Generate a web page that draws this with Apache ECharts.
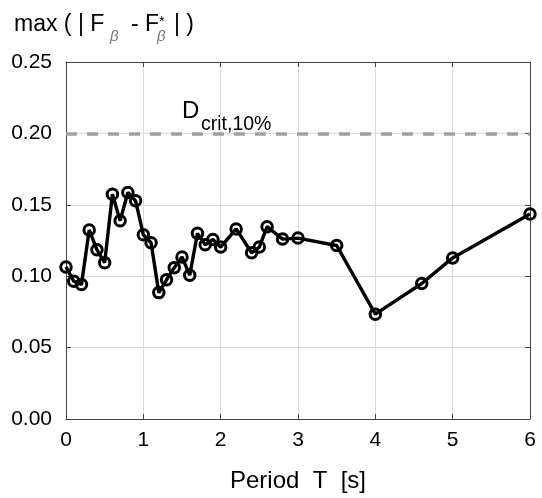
<!DOCTYPE html>
<html>
<head>
<meta charset="utf-8">
<script src="https://cdn.jsdelivr.net/npm/echarts@6/dist/echarts.min.js"></script>
<style>
  html, body { margin: 0; padding: 0; background: #fff; }
  #chart { width: 542px; height: 498px; }
</style>
</head>
<body>
<div id="chart"></div>
<script>
// data
var periods = [0, 0.1, 0.2, 0.3, 0.4, 0.5, 0.6, 0.7, 0.8, 0.9, 1.0, 1.1, 1.2, 1.3, 1.4, 1.5, 1.6, 1.7, 1.8, 1.9, 2.0,
               2.2, 2.4, 2.5, 2.6, 2.8, 3.0, 3.5, 4.0, 4.6, 5.0, 6.0]
var maxDiff = [0.1065, 0.0965, 0.0942, 0.1324, 0.1185, 0.1095, 0.1574, 0.1389, 0.1586, 0.1528, 0.1290, 0.1234, 0.0885,
               0.0975, 0.1060, 0.1135, 0.1007, 0.1300, 0.1220, 0.1257, 0.1204,
               0.1331, 0.1164, 0.1204, 0.1347, 0.1260, 0.1267, 0.1215, 0.0734, 0.0949, 0.1128, 0.1435]
var dCrit = 0.1958
var xTicks = [0, 1, 2, 3, 4, 5, 6]
var yTicks = [0, 0.05, 0.10, 0.15, 0.20, 0.25]

var font = "'Liberation Sans', Arial, sans-serif"
var chart = echarts.init(document.getElementById('chart'))

var points = periods.map(function (t, i) { return [t, maxDiff[i]] })

chart.setOption({
    animation: false,
    grid: { left: 66, right: 12, top: 62, bottom: 76 },
    xAxis: [
        {
            type: 'value',
            min: xTicks[0],
            max: xTicks[xTicks.length - 1],
            interval: 1,
            name: 'Period  T  [s]',
            nameLocation: 'middle',
            nameGap: 50,
            nameTextStyle: { fontFamily: font, fontSize: 24, color: '#000' },
            axisLine: { show: true, onZero: false, lineStyle: { color: '#444', width: 1 } },
            axisTick: { show: true, inside: true, length: 5, lineStyle: { color: '#444' } },
            axisLabel: { fontFamily: font, fontSize: 21, color: '#000', margin: 11 },
            splitLine: { show: true, lineStyle: { color: '#dcdcdc', width: 1 } }
        },
        {
            // top frame
            type: 'value',
            position: 'top',
            min: xTicks[0],
            max: xTicks[xTicks.length - 1],
            interval: 1,
            axisLine: { show: true, onZero: false, lineStyle: { color: '#444', width: 1 } },
            axisTick: { show: true, inside: true, length: 5, lineStyle: { color: '#444' } },
            axisLabel: { show: false },
            splitLine: { show: false }
        }
    ],
    yAxis: [
        {
            type: 'value',
            min: yTicks[0],
            max: yTicks[yTicks.length - 1],
            interval: 0.05,
            axisLine: { show: true, onZero: false, lineStyle: { color: '#444', width: 1 } },
            axisTick: { show: true, inside: true, length: 5, lineStyle: { color: '#444' } },
            axisLabel: {
                fontFamily: font, fontSize: 21, color: '#000', margin: 14,
                formatter: function (v) { return v.toFixed(2) }
            },
            splitLine: { show: true, lineStyle: { color: '#dcdcdc', width: 1 } }
        },
        {
            // right frame
            type: 'value',
            position: 'right',
            min: yTicks[0],
            max: yTicks[yTicks.length - 1],
            interval: 0.05,
            axisLine: { show: true, onZero: false, lineStyle: { color: '#444', width: 1 } },
            axisTick: { show: true, inside: true, length: 5, lineStyle: { color: '#444' } },
            axisLabel: { show: false },
            splitLine: { show: false }
        }
    ],
    graphic: [
        // y axis title: max ( | F_beta - F*_beta | )
        { type: 'text', left: 14, top: 13, style: { text: 'max ( | F', font: '23px ' + font, fill: '#000' } },
        { type: 'text', left: 110, top: 29, style: { text: 'β', font: 'italic 15px ' + font, fill: '#777' } },
        { type: 'text', left: 131, top: 13, style: { text: '- F', font: '23px ' + font, fill: '#000' } },
        { type: 'text', left: 159, top: 15, style: { text: '*', font: '14px ' + font, fill: '#000' } },
        { type: 'text', left: 157, top: 29, style: { text: 'β', font: 'italic 15px ' + font, fill: '#777' } },
        { type: 'text', left: 174, top: 13, style: { text: '| )', font: '23px ' + font, fill: '#000' } },
        // D_crit,10% label
        { type: 'text', left: 182, top: 99, style: { text: 'D', font: '24px ' + font, fill: '#000' } },
        { type: 'text', left: 201, top: 115, style: { text: 'crit,10%', font: '19.5px ' + font, fill: '#000' } }
    ],
    series: [
        {
            type: 'line',
            data: points,
            symbol: 'circle',
            symbolSize: 10.5,
            lineStyle: { color: '#000', width: 3.4 },
            itemStyle: { color: 'rgba(0,0,0,0)', borderColor: '#000', borderWidth: 3 },
            markLine: {
                silent: true,
                symbol: 'none',
                label: { show: false },
                lineStyle: { color: '#a0a0a0', width: 3.5, type: [11, 10] },
                data: [{ yAxis: dCrit }]
            },
            z: 3
        }
    ]
})
</script>
</body>
</html>
